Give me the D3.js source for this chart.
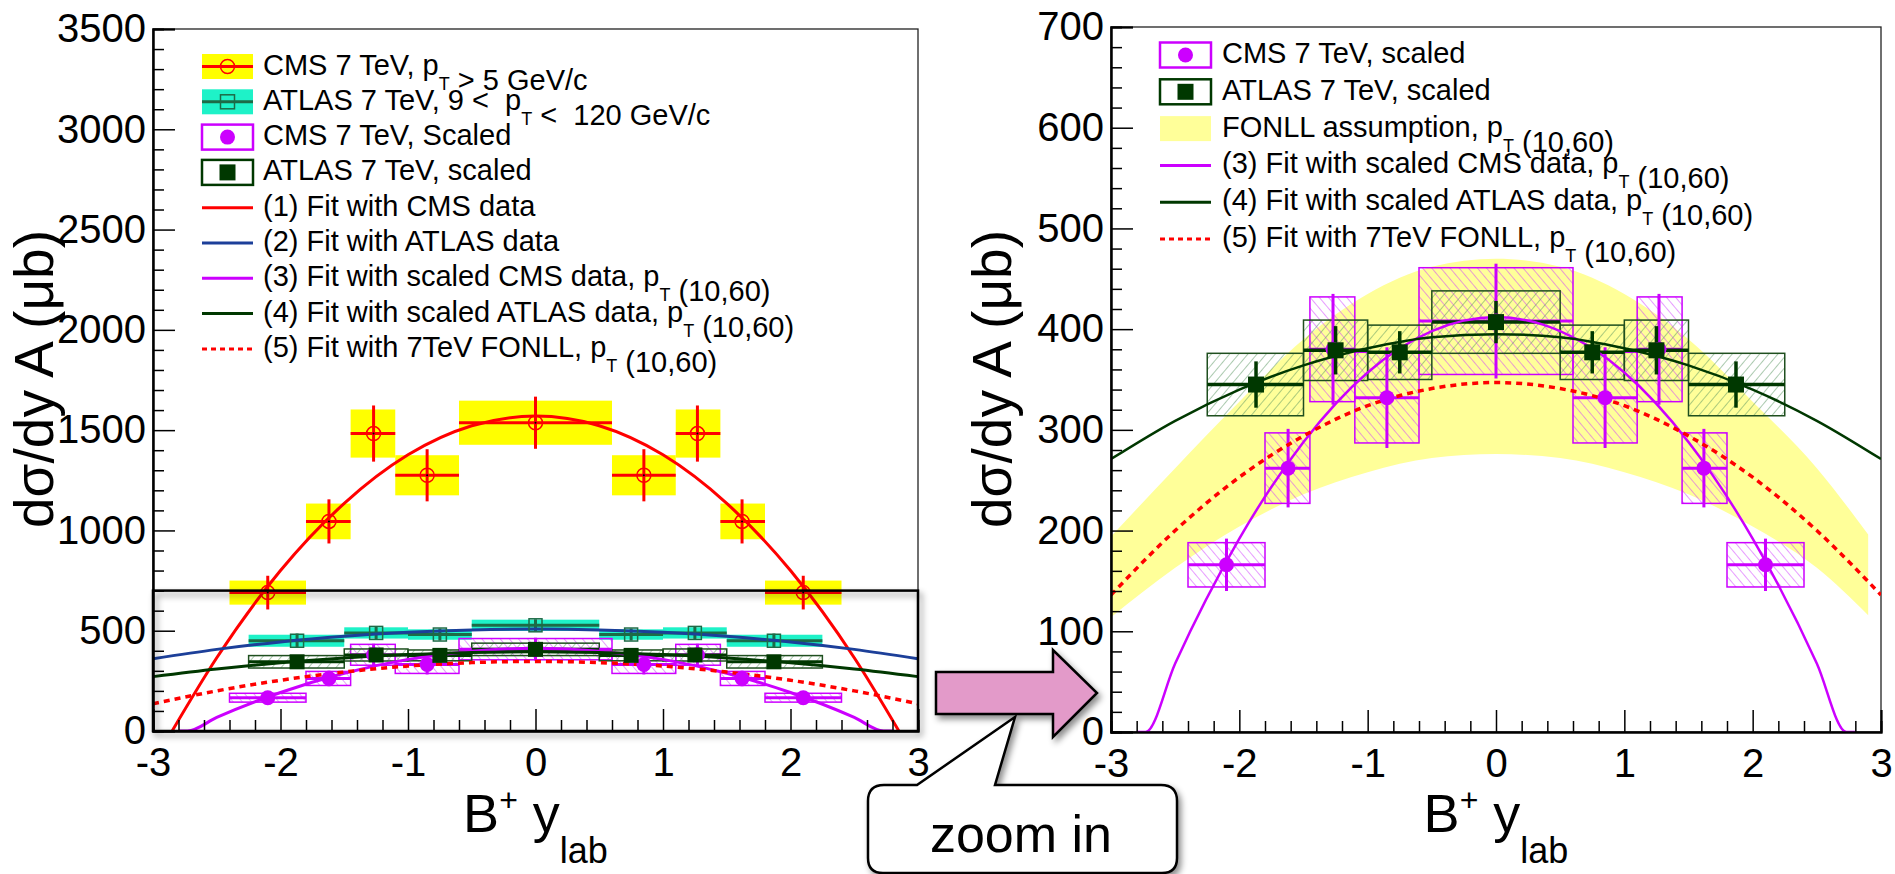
<!DOCTYPE html>
<meta charset="utf-8">
<style>
body { margin: 0; background: #fff; }
svg { font-family: "Liberation Sans", Arial, Helvetica, sans-serif; }
text { white-space: pre; }
.axis text { font-size: 40px; fill: #000; }
.axis path, .axis line { stroke: #000; }
.axis path { stroke-width: 2; }
.axis line { stroke-width: 1.5; }
.leg text { font-size: 29px; fill: #000; }
</style>
<svg width="1895" height="874"></svg>
<script src="https://cdnjs.cloudflare.com/ajax/libs/d3/7.8.5/d3.min.js"></script>
<script>
// ---- values ----
var cmsX     = [-2.1, -1.62, -1.27, -0.85, 0, 0.85, 1.27, 1.62, 2.1];
var cmsLo    = [-2.4, -1.8, -1.45, -1.1, -0.6, 0.6, 1.1, 1.45, 1.8];
var cmsHi    = [-1.8, -1.45, -1.1, -0.6, 0.6, 1.1, 1.45, 1.8, 2.4];
var cmsY     = [690, 1045, 1483, 1275, 1537, 1275, 1483, 1045, 690];
var cmsStat  = [84, 110, 140, 130, 130, 130, 140, 110, 84];
var cmsSyst  = [60, 89, 120, 100, 110, 100, 120, 89, 60];
var cmsScY    = [166, 262, 380, 332, 408, 332, 380, 262, 166];
var cmsScStat = [26, 39, 55, 50, 57, 50, 55, 39, 26];
var cmsScSyst = [22, 35, 52, 45, 53, 45, 52, 35, 22];

var atlasX    = [-1.87, -1.25, -0.75, 0, 0.75, 1.25, 1.87];
var atlasLo   = [-2.25, -1.5, -1.0, -0.5, 0.5, 1.0, 1.5];
var atlasHi   = [-1.5, -1.0, -0.5, 0.5, 1.0, 1.5, 2.25];
var atlasY    = [450, 489, 481, 527, 481, 489, 450];
var atlasStat = [36, 34, 30, 30, 30, 34, 36];
var atlasSyst = [30, 28, 26, 28, 26, 28, 30];
var atlasScY    = [345, 379, 377, 407, 377, 379, 345];
var atlasScStat = [23, 24, 21, 21, 21, 24, 23];
var atlasScSyst = [31, 30, 27, 31, 27, 30, 31];

// fit curves
var fitX       = [-3, -2.5, -2, -1.5, -1, -0.5, 0, 0.5, 1, 1.5, 2, 2.5, 3];
var fitAtlas   = [360, 407, 444, 472, 492, 504, 508, 504, 492, 472, 444, 407, 360];
var fitAtlasSc = [271, 309, 340, 364, 381, 392, 395, 392, 381, 364, 340, 309, 271];
var fitFonll   = [136, 200, 253, 294, 324, 341, 347, 341, 324, 294, 253, 200, 136];
var fitCmsX    = [-2.85, -2.5, -2, -1.5, -1, -0.5, 0, 0.5, 1, 1.5, 2, 2.5, 2.85];
var fitCms     = [0, 365, 800, 1135, 1377, 1522, 1570, 1522, 1377, 1135, 800, 365, 0];
var fitCmsScX  = [-2.8, -2.73, -2.5, -2, -1.5, -1, -0.5, 0, 0.5, 1, 1.5, 2, 2.5, 2.73, 2.8];
var fitCmsSc   = [0, 0, 68, 192, 288, 357, 398, 412, 398, 357, 288, 192, 68, 0, 0];

var bandX  = [-3, -2.5, -2, -1.5, -1, -0.5, 0, 0.5, 1, 1.5, 2, 2.5, 2.9];
var bandHi = [194, 262, 328, 390, 435, 462, 470, 462, 435, 390, 328, 262, 196];
var bandLo = [114, 163, 204, 236, 258, 272, 276, 272, 258, 236, 204, 163, 116];

var RED = "#ff0000", BLUE = "#1c3f99", MAG = "#cc00ff", DKG = "#003800",
    CYAN = "#1ef2c8", YEL = "#ffff00", PALE = "#ffff99", TEAL = "#1d6b47";

var svg = d3.select("svg");
var defs = svg.append("defs");

function hatch(id, ang, col) {
  defs.append("pattern").attr("id", id).attr("patternUnits", "userSpaceOnUse")
      .attr("width", 7).attr("height", 7).attr("patternTransform", "rotate(" + ang + ")")
    .append("line").attr("x1", 0).attr("y1", 0).attr("x2", 0).attr("y2", 7)
      .attr("stroke", col).attr("stroke-width", 1);
}
hatch("hG", 40, "#58955f");
hatch("hM", -40, "#cf3cff");

var sh = defs.append("filter").attr("id", "shadow").attr("x", "-20%").attr("y", "-20%").attr("width", "140%").attr("height", "160%");
sh.append("feDropShadow").attr("dx", 3).attr("dy", 4).attr("stdDeviation", 3).attr("flood-color", "#000").attr("flood-opacity", 0.45);

function panel(x0, x1, y0, y1, ymax, major, minor, id) {
  var x = d3.scaleLinear().domain([-3, 3]).range([x0, x1]);
  var y = d3.scaleLinear().domain([0, ymax]).range([y0, y1]);
  defs.append("clipPath").attr("id", id).append("rect")
      .attr("x", x0).attr("y", y1).attr("width", x1 - x0).attr("height", y0 - y1);
  var g = svg.append("g");
  g.append("rect").attr("x", x0).attr("y", y1).attr("width", x1 - x0).attr("height", y0 - y1)
      .attr("fill", "none").attr("stroke", "#222").attr("stroke-width", 1.3);
  var body = g.append("g").attr("clip-path", "url(#" + id + ")");
  return {x: x, y: y, g: g, body: body, x0: x0, x1: x1, y0: y0, y1: y1, ymax: ymax, major: major, minor: minor};
}

function axes(p) {
  var fmt = function(d) { return String(d); };
  p.g.append("g").attr("class", "axis").attr("transform", "translate(0," + p.y0 + ")")
    .call(d3.axisBottom(p.x).tickValues(d3.range(-3, 3.01, 0.2).filter(function(v) { return Math.abs(v - Math.round(v)) > 0.01; }))
      .tickSize(-11).tickFormat(""));
  p.g.append("g").attr("class", "axis").attr("transform", "translate(0," + p.y0 + ")")
    .call(d3.axisBottom(p.x).tickValues(d3.range(-3, 4, 1)).tickSize(-22).tickPadding(17).tickFormat(fmt));
  p.g.append("g").attr("class", "axis").attr("transform", "translate(" + p.x0 + ",0)")
    .call(d3.axisLeft(p.y).tickValues(d3.range(0, p.ymax + 1, p.minor).filter(function(v) { return v % p.major !== 0; }))
      .tickSize(-11).tickFormat(""));
  p.g.append("g").attr("class", "axis").attr("transform", "translate(" + p.x0 + ",0)")
    .call(d3.axisLeft(p.y).tickValues(d3.range(0, p.ymax + 1, p.major)).tickSize(-22).tickPadding(7).tickFormat(fmt));
  // axis titles
  var cx = (p.x0 + p.x1) / 2;
  var t = p.g.append("text").attr("x", cx).attr("y", 832).attr("text-anchor", "middle").attr("font-size", 54);
  t.append("tspan").text("B");
  t.append("tspan").attr("font-size", 32).attr("dy", -21).text("+");
  t.append("tspan").attr("dy", 21).text(" y");
  t.append("tspan").attr("font-size", 36).attr("dy", 31).text("lab");
  p.g.append("text").attr("transform", "translate(" + (p.x0 - 100) + ",379) rotate(-90)")
    .attr("text-anchor", "middle").attr("font-size", 55).text("d\u03c3/dy A (\u03bcb)");
}

function boxes(p, xs, lo, hi, v, e, fill, stroke, sw) {
  p.body.append("g").selectAll("rect").data(xs).enter().append("rect")
    .attr("x", function(d, i) { return p.x(lo[i]); })
    .attr("width", function(d, i) { return p.x(hi[i]) - p.x(lo[i]); })
    .attr("y", function(d, i) { return p.y(v[i] + e[i]); })
    .attr("height", function(d, i) { return p.y(v[i] - e[i]) - p.y(v[i] + e[i]); })
    .attr("fill", fill).attr("stroke", stroke).attr("stroke-width", sw);
}

function bars(p, xs, lo, hi, v, e, col, w) {
  var g = p.body.append("g").attr("stroke", col).attr("stroke-width", w);
  xs.forEach(function(d, i) {
    g.append("line").attr("x1", p.x(lo[i])).attr("x2", p.x(hi[i])).attr("y1", p.y(v[i])).attr("y2", p.y(v[i]));
    g.append("line").attr("x1", p.x(d)).attr("x2", p.x(d)).attr("y1", p.y(v[i] - e[i])).attr("y2", p.y(v[i] + e[i]));
  });
}

function curve(p, xs, ys, col, w, dash) {
  var line = d3.line().x(function(d, i) { return p.x(xs[i]); }).y(function(d) { return p.y(d); }).curve(d3.curveMonotoneX);
  p.body.append("path").datum(ys).attr("d", line).attr("fill", "none")
    .attr("stroke", col).attr("stroke-width", w).attr("stroke-dasharray", dash || null);
}

function circles(p, xs, v, r, fill, stroke) {
  p.body.append("g").selectAll("circle").data(xs).enter().append("circle")
    .attr("cx", function(d) { return p.x(d); }).attr("cy", function(d, i) { return p.y(v[i]); })
    .attr("r", r).attr("fill", fill).attr("stroke", stroke).attr("stroke-width", 1.5);
}

function squares(p, xs, v, s, fill, stroke) {
  p.body.append("g").selectAll("rect").data(xs).enter().append("rect")
    .attr("x", function(d) { return p.x(d) - s / 2; }).attr("y", function(d, i) { return p.y(v[i]) - s / 2; })
    .attr("width", s).attr("height", s).attr("fill", fill).attr("stroke", stroke).attr("stroke-width", 1.5);
}

// ---------------- left panel ----------------
var L = panel(153, 918, 731, 29, 3500, 500, 100, "clipL");
boxes(L, cmsX, cmsLo, cmsHi, cmsY, cmsSyst, YEL, "none", 0);
boxes(L, atlasX, atlasLo, atlasHi, atlasY, atlasSyst, CYAN, "none", 0);
boxes(L, cmsX, cmsLo, cmsHi, cmsScY, cmsScSyst, "url(#hM)", MAG, 1.5);
boxes(L, atlasX, atlasLo, atlasHi, atlasScY, atlasScSyst, "url(#hG)", "#1f4f1f", 1.5);
bars(L, cmsX, cmsLo, cmsHi, cmsY, cmsStat, RED, 3);
bars(L, atlasX, atlasLo, atlasHi, atlasY, atlasStat, TEAL, 3);
bars(L, cmsX, cmsLo, cmsHi, cmsScY, cmsScStat, MAG, 3);
bars(L, atlasX, atlasLo, atlasHi, atlasScY, atlasScStat, DKG, 3);
curve(L, fitCmsX, fitCms, RED, 3);
curve(L, fitX, fitAtlas, BLUE, 3);
curve(L, fitCmsScX, fitCmsSc, MAG, 3);
curve(L, fitX, fitAtlasSc, DKG, 3);
curve(L, fitX, fitFonll, RED, 3.5, "6,5");
circles(L, cmsX, cmsY, 7, "none", RED);
circles(L, cmsX, cmsY, 1, "#000", "none");
squares(L, atlasX, atlasY, 13, "none", TEAL);
circles(L, cmsX, cmsScY, 7.5, MAG, "none");
squares(L, atlasX, atlasScY, 15, DKG, "none");
// outline of the range shown in the right panel
L.g.append("rect").attr("x", L.x(-3)).attr("y", L.y(700)).attr("width", L.x(3) - L.x(-3))
  .attr("height", L.y(0) - L.y(700)).attr("fill", "none").attr("stroke", "#000").attr("stroke-width", 2.5)
  .attr("filter", "url(#shadow)");
axes(L);

// ---------------- right panel ----------------
var R = panel(1111, 1881, 732, 27, 700, 100, 20, "clipR");
var area = d3.area().x(function(d, i) { return R.x(bandX[i]); })
  .y0(function(d, i) { return R.y(bandLo[i]); }).y1(function(d) { return R.y(d); }).curve(d3.curveMonotoneX);
R.body.append("path").datum(bandHi).attr("d", area).attr("fill", PALE);
boxes(R, cmsX, cmsLo, cmsHi, cmsScY, cmsScSyst, "url(#hM)", MAG, 1.5);
boxes(R, atlasX, atlasLo, atlasHi, atlasScY, atlasScSyst, "url(#hG)", "#1f4f1f", 1.5);
bars(R, cmsX, cmsLo, cmsHi, cmsScY, cmsScStat, MAG, 3);
bars(R, atlasX, atlasLo, atlasHi, atlasScY, atlasScStat, DKG, 3.5);
curve(R, fitCmsScX, fitCmsSc, MAG, 2.5);
curve(R, fitX, fitAtlasSc, DKG, 2.5);
curve(R, fitX, fitFonll, RED, 3.5, "6,5");
circles(R, cmsX, cmsScY, 7.5, MAG, "none");
squares(R, atlasX, atlasScY, 16, DKG, "none");
axes(R);

// ---------------- legends ----------------
function legText(g, x, y, parts) {
  var t = g.append("text").attr("x", x).attr("y", y);
  parts.forEach(function(s) {
    if (s === "_T") {
      t.append("tspan").attr("font-size", 18).attr("dy", 15).text("T");
      t.append("tspan").attr("dy", -15).text("");
    } else t.append("tspan").text(s);
  });
}
function legend(sx, tx, y0, dy, entries) {
  var g = svg.append("g").attr("class", "leg");
  entries.forEach(function(e, i) {
    var cy = y0 + i * dy, w = 51, h = 25;
    if (e.box) g.append("rect").attr("x", sx).attr("y", cy - h / 2).attr("width", w).attr("height", h)
      .attr("fill", e.box).attr("stroke", e.edge || "none").attr("stroke-width", 2.5);
    if (e.line) g.append("line").attr("x1", sx).attr("x2", sx + w).attr("y1", cy).attr("y2", cy)
      .attr("stroke", e.line).attr("stroke-width", 3).attr("stroke-dasharray", e.dash || null);
    if (e.mk === "oc") {
      g.append("circle").attr("cx", sx + w / 2).attr("cy", cy).attr("r", 7).attr("fill", "none").attr("stroke", RED).attr("stroke-width", 1.5);
    } else if (e.mk === "os") {
      g.append("rect").attr("x", sx + w / 2 - 7).attr("y", cy - 7).attr("width", 14).attr("height", 14).attr("fill", "none").attr("stroke", TEAL).attr("stroke-width", 1.5);
    } else if (e.mk === "fc") {
      g.append("circle").attr("cx", sx + w / 2).attr("cy", cy).attr("r", 7.5).attr("fill", MAG);
    } else if (e.mk === "fs") {
      g.append("rect").attr("x", sx + w / 2 - 8).attr("y", cy - 8).attr("width", 16).attr("height", 16).attr("fill", DKG);
    }
    legText(g, tx, cy + 8, e.text);
  });
}
legend(202, 263, 66.5, 35.3, [
  {box: YEL, line: RED, mk: "oc", text: ["CMS 7 TeV, p", "_T", " > 5 GeV/c"]},
  {box: CYAN, line: TEAL, mk: "os", text: ["ATLAS 7 TeV, 9 <  p", "_T", " <  120 GeV/c"]},
  {box: "#fff", edge: MAG, mk: "fc", text: ["CMS 7 TeV, Scaled"]},
  {box: "#fff", edge: DKG, mk: "fs", text: ["ATLAS 7 TeV, scaled"]},
  {line: RED, text: ["(1) Fit with CMS data"]},
  {line: BLUE, text: ["(2) Fit with ATLAS data"]},
  {line: MAG, text: ["(3) Fit with scaled CMS data, p", "_T", " (10,60)"]},
  {line: DKG, text: ["(4) Fit with scaled ATLAS data, p", "_T", " (10,60)"]},
  {line: RED, dash: "5,4", text: ["(5) Fit with 7TeV FONLL, p", "_T", " (10,60)"]}
]);
legend(1160, 1222, 55, 36.8, [
  {box: "#fff", edge: MAG, mk: "fc", text: ["CMS 7 TeV, scaled"]},
  {box: "#fff", edge: DKG, mk: "fs", text: ["ATLAS 7 TeV, scaled"]},
  {box: PALE, text: ["FONLL assumption, p", "_T", " (10,60)"]},
  {line: MAG, text: ["(3) Fit with scaled CMS data, p", "_T", " (10,60)"]},
  {line: DKG, text: ["(4) Fit with scaled ATLAS data, p", "_T", " (10,60)"]},
  {line: RED, dash: "5,4", text: ["(5) Fit with 7TeV FONLL, p", "_T", " (10,60)"]}
]);

// ---------------- arrow and callout ----------------
var ann = svg.append("g").attr("filter", "url(#shadow)");
ann.append("path").attr("d", "M936,672 L1053,672 L1053,650 L1097,693 L1053,737 L1053,714 L936,714 Z")
  .attr("fill", "#e39ac9").attr("stroke", "#000").attr("stroke-width", 2.5);
ann.append("path").attr("d", "M884,785 L917,785 L1015,717 L995,785 L1161,785 Q1177,785 1177,801 L1177,858 Q1177,873 1162,873 L883,873 Q868,873 868,858 L868,801 Q868,785 884,785 Z")
  .attr("fill", "#fff").attr("stroke", "#000").attr("stroke-width", 2.5);
svg.append("text").attr("x", 1021).attr("y", 852).attr("text-anchor", "middle").attr("font-size", 52).text("zoom in");
</script>
